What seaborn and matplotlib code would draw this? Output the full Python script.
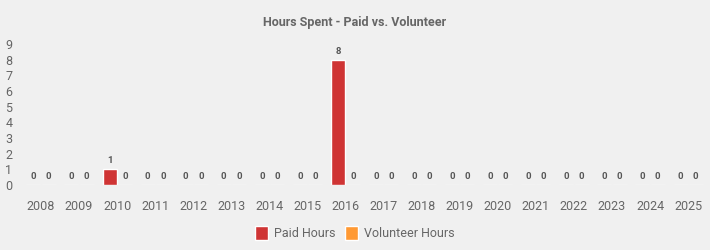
import matplotlib
matplotlib.use("Agg")
import matplotlib.pyplot as plt
import seaborn as sns
import pandas as pd
from matplotlib.patches import Patch

years = [str(y) for y in range(2008, 2026)]
paid_hours = [0, 0, 1, 0, 0, 0, 0, 0, 8, 0, 0, 0, 0, 0, 0, 0, 0, 0]
volunteer_hours = [0] * 18
series_names = ["Paid Hours", "Volunteer Hours"]
colors = ["#cf3434", "#ff9933"]

df = pd.DataFrame({
    "Year": years * 2,
    "Hours": paid_hours + volunteer_hours,
    "Series": [series_names[0]] * len(years) + [series_names[1]] * len(years),
})

sns.set_theme(style="white")
plt.rcParams["font.family"] = ["Roboto", "DejaVu Sans"]

fig = plt.figure(figsize=(7.1, 2.5), dpi=100, facecolor="#f0f0f0")
ax = fig.add_axes([0.031, 0.26, 0.965, 0.564])
ax.set_facecolor("#f0f0f0")

sns.barplot(data=df, x="Year", y="Hours", hue="Series", palette=colors,
            width=0.8, gap=0.08, ax=ax, saturation=1, legend=False)

for c in ax.containers:
    ax.bar_label(c, fmt="%d", padding=3, fontsize=6.8, fontweight="bold", color="#555555")

ax.set_ylim(0, 9)
ax.set_yticks(range(0, 10))
ax.set_xlabel("")
ax.set_ylabel("")
for s in ax.spines.values():
    s.set_visible(False)
ax.tick_params(axis="both", length=0, colors="#666666", labelsize=9)
ax.tick_params(axis="x", pad=11)
ax.tick_params(axis="y", pad=7)

fig.suptitle("Hours Spent - Paid vs. Volunteer", x=0.5, y=0.935, fontsize=9.0,
             fontweight="bold", color="#666666")

handles = [Patch(facecolor=colors[0]), Patch(facecolor=colors[1])]
leg = fig.legend(handles, series_names, loc="center", bbox_to_anchor=(0.5, 0.068), ncol=2,
                 frameon=False, fontsize=9, handlelength=1.0, handleheight=1.3,
                 handletextpad=0.5, columnspacing=0.8)
for t in leg.get_texts():
    t.set_color("#666666")

fig.savefig("out.png", dpi=100, facecolor="#f0f0f0")
